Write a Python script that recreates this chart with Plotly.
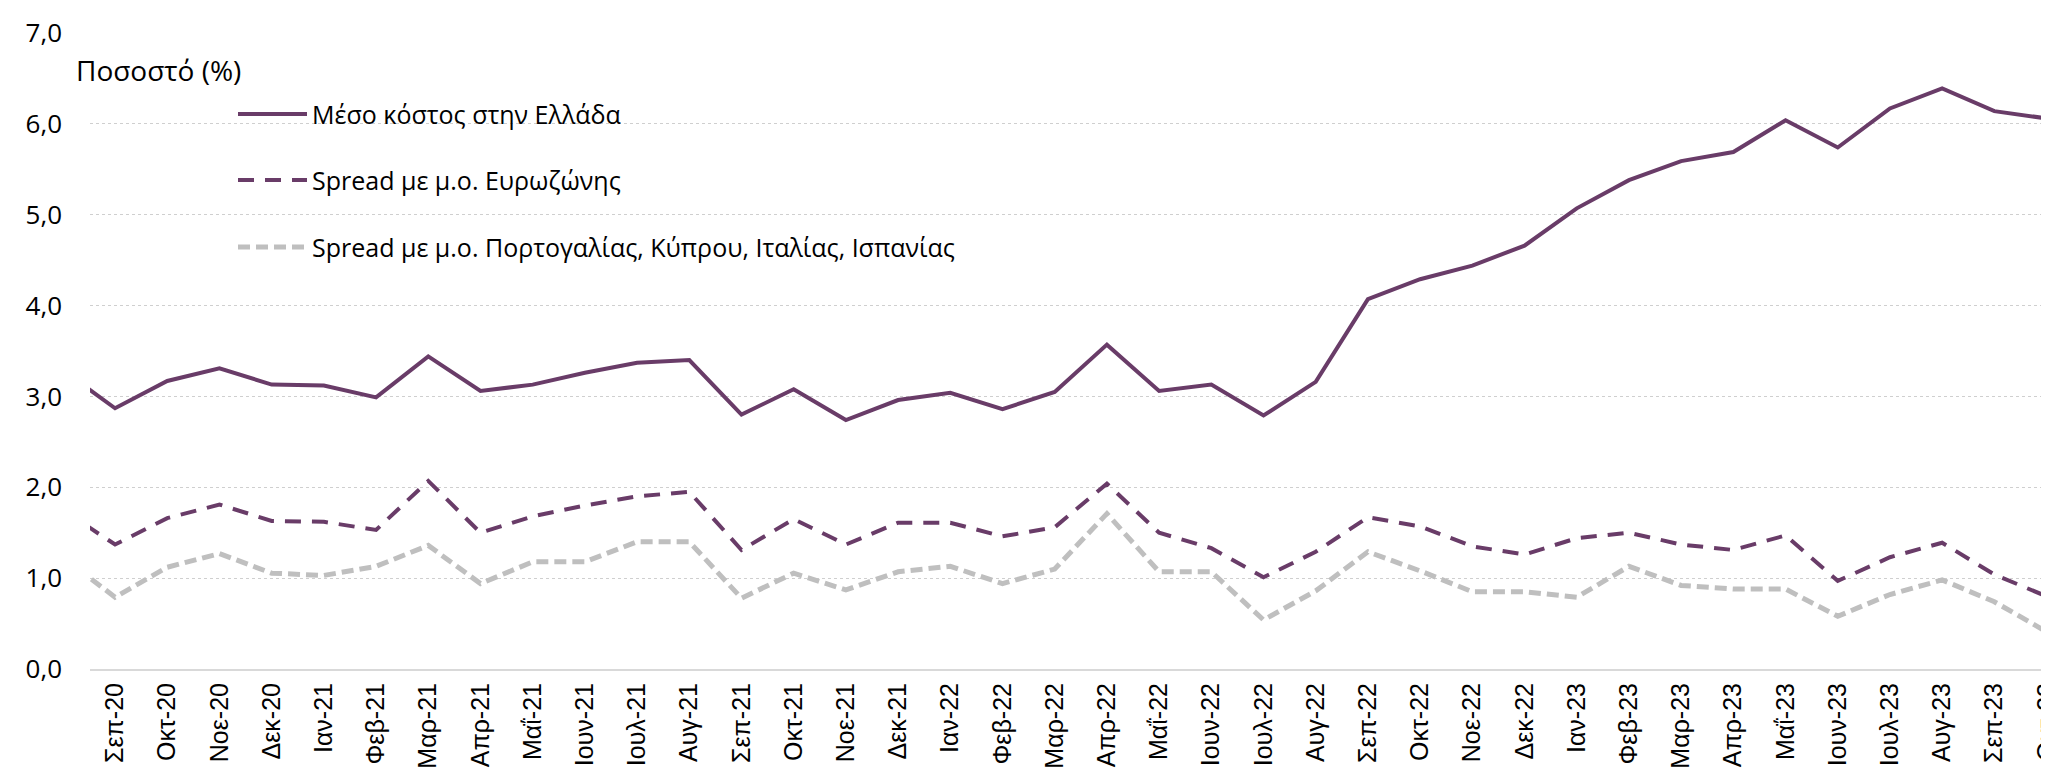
import plotly.graph_objects as go

months = ['Αυγ-20', 'Σεπ-20', 'Οκτ-20', 'Νοε-20', 'Δεκ-20',
          'Ιαν-21', 'Φεβ-21', 'Μαρ-21', 'Απρ-21', 'Μαΐ-21', 'Ιουν-21',
          'Ιουλ-21', 'Αυγ-21', 'Σεπ-21', 'Οκτ-21', 'Νοε-21', 'Δεκ-21',
          'Ιαν-22', 'Φεβ-22', 'Μαρ-22', 'Απρ-22', 'Μαΐ-22', 'Ιουν-22',
          'Ιουλ-22', 'Αυγ-22', 'Σεπ-22', 'Οκτ-22', 'Νοε-22', 'Δεκ-22',
          'Ιαν-23', 'Φεβ-23', 'Μαρ-23', 'Απρ-23', 'Μαΐ-23', 'Ιουν-23',
          'Ιουλ-23', 'Αυγ-23', 'Σεπ-23', 'Οκτ-23']

# Μέσο κόστος στην Ελλάδα
cost_gr = [3.29, 2.87, 3.17, 3.31, 3.13,
           3.12, 2.99, 3.44, 3.06, 3.13, 3.26,
           3.37, 3.40, 2.80, 3.08, 2.74, 2.96,
           3.04, 2.86, 3.05, 3.57, 3.06, 3.13,
           2.79, 3.16, 4.07, 4.29, 4.44, 4.66,
           5.07, 5.38, 5.59, 5.69, 6.04, 5.74,
           6.17, 6.39, 6.14, 6.06]

# Spread με μ.ο. Ευρωζώνης
spread_ez = [1.75, 1.37, 1.66, 1.81, 1.63,
             1.62, 1.53, 2.07, 1.50, 1.68, 1.80,
             1.90, 1.95, 1.31, 1.65, 1.37, 1.61,
             1.61, 1.46, 1.56, 2.04, 1.50, 1.33,
             1.01, 1.29, 1.67, 1.57, 1.35, 1.26,
             1.44, 1.50, 1.37, 1.31, 1.47, 0.97,
             1.23, 1.39, 1.04, 0.80]

# Spread με μ.ο. Πορτογαλίας, Κύπρου, Ιταλίας, Ισπανίας
spread_south = [1.23, 0.79, 1.12, 1.27, 1.055,
                1.03, 1.13, 1.36, 0.94, 1.18, 1.18,
                1.40, 1.40, 0.78, 1.055, 0.87, 1.07,
                1.13, 0.94, 1.10, 1.71, 1.07, 1.07,
                0.54, 0.86, 1.29, 1.08, 0.85, 0.85,
                0.79, 1.13, 0.92, 0.88, 0.88, 0.58,
                0.82, 0.98, 0.74, 0.41]

names = ['Μέσο κόστος στην Ελλάδα',
         'Spread με μ.ο. Ευρωζώνης',
         'Spread με μ.ο. Πορτογαλίας, Κύπρου, Ιταλίας, Ισπανίας']

PURPLE = '#693c68'
GREY = '#bfbfbf'
FONT = 'Open Sans'

W, H = 2049, 773
L, R, T, B = 82, 0, 25, 112


def px(x):
    return (x - L) / (W - L - R)


def py(y):
    return (H - B - y) / (H - T - B)


fig = go.Figure()
styles = [dict(color=PURPLE, width=4, dash='solid'),
          dict(color=PURPLE, width=4, dash='16px,11px'),
          dict(color=GREY, width=5, dash='12px,6px')]
for name, vals, st in zip(names, [cost_gr, spread_ez, spread_south], styles):
    fig.add_trace(go.Scatter(x=months, y=vals, name=name, mode='lines',
                             line=st, showlegend=False))

# legend drawn by hand (long line samples, wide row gaps)
leg_y = [106, 172, 239]
for name, st, yy in zip(names, styles, leg_y):
    fig.add_shape(type='line', xref='paper', yref='paper',
                  x0=px(230), x1=px(299), y0=py(yy), y1=py(yy),
                  line=st)
    fig.add_annotation(text=name, xref='paper', yref='paper',
                       x=px(302), y=py(yy), xanchor='left', yanchor='middle',
                       showarrow=False, font=dict(family=FONT, size=25, color='#000000'))

fig.add_annotation(text='Ποσοστό (%)', xref='paper', yref='paper',
                   x=px(66), y=py(62), xanchor='left', yanchor='middle',
                   showarrow=False, font=dict(family=FONT, size=28, color='#000000'))

fig.update_layout(
    width=W, height=H,
    margin=dict(l=L, r=R, t=T, b=B),
    plot_bgcolor='white', paper_bgcolor='white',
    separators=',.',
    font=dict(family=FONT, size=24, color='#000000'),
)
fig.update_xaxes(
    type='category', range=[0.52, 38.2], automargin=False,
    tickangle=-90, tickfont=dict(family='Liberation Sans', size=25, color='#000000'),
    showgrid=False, showline=True, linecolor='#d9d9d9', linewidth=2,
    ticks='', ticklabelstandoff=2,
)
fig.update_yaxes(
    range=[0, 7], dtick=1, tickformat='.1f', automargin=False,
    showgrid=True, gridcolor='#cfcfcf', gridwidth=1, griddash='dot',
    zeroline=False, ticks='', ticklabelstandoff=27,
    tickfont=dict(family=FONT, size=26, color='#000000'),
)

fig.write_html('out.html')
